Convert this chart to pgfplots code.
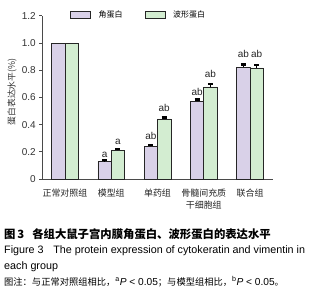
\documentclass[border=0pt]{standalone}
\usepackage{pgfplots}
\pgfplotsset{compat=1.18}
\usepackage{fontspec}
\setmainfont{Liberation Sans}
\newfontfamily\cjk{Noto Sans CJK SC}
\definecolor{kpurple}{HTML}{D9D1E8}
\definecolor{vgreen}{HTML}{D3EDD1}
\definecolor{axgray}{HTML}{4A4A4A}
\begin{document}
\begin{tikzpicture}[x=1bp,y=1bp]
\useasboundingbox (0,0) rectangle (334,-300);
\begin{axis}[
  at={(42.3bp,-179bp)}, anchor=south west,
  scale only axis, width=230.4bp, height=163.3bp,
  xmin=-0.49, xmax=4.49, ymin=0, ymax=1.2,
  axis lines=left, axis line style={-, draw=axgray, line width=0.7bp},
  xtick={0,1,2,3,4},
  xticklabels={正常对照组,模型组,单药组,{骨髓间充质\\干细胞组},联合组},
  xticklabel style={font=\cjk\fontsize{9}{12.4}\selectfont, align=center, text=black!85, yshift=-3.5bp},
  xtick style={draw=none},
  ytick={0,0.2,0.4,0.6,0.8,1.0,1.2},
  yticklabels={0,0.2,0.4,0.6,0.8,1.0,1.2},
  yticklabel style={font=\fontsize{10}{12}\selectfont, text=black!80},
  ytick style={draw=axgray, line width=0.7bp},
  tick align=outside, major tick length=3bp,
  ylabel={\cjk 蛋白表达水平(\%)},
  ylabel style={at={(axis description cs:-0.1315,0.533)}, anchor=center, font=\fontsize{8.8}{10}\selectfont, text=black!80},
  legend style={at={(0.418,1.004)}, anchor=center, draw=none, fill=none,
    legend columns=2, font=\cjk\fontsize{8}{10}\selectfont,
    /tikz/every odd column/.append style={column sep=6bp},
    /tikz/every even column/.append style={column sep=20bp}},
  legend image code/.code={\draw[#1] (0bp,-3.5bp) rectangle (20bp,3.5bp);},
  clip=false,
]
% group 1 (no error bars)
\addplot[ybar, forget plot, bar width=0.288, bar shift=0pt, fill=kpurple, draw=black!85, line width=0.6bp]
  coordinates {(-0.144,1.0)};
\addplot[ybar, forget plot, bar width=0.288, bar shift=0pt, fill=vgreen, draw=black!85, line width=0.6bp]
  coordinates {(0.144,1.0)};
% cytokeratin
\addplot[ybar, bar width=0.288, bar shift=0pt, fill=kpurple, draw=black!85, line width=0.6bp,
  error bars/.cd, y dir=plus, y explicit,
  error bar style={line width=1.2bp, black},
  error mark options={rotate=90, mark size=2.6bp, line width=2.4bp, black}]
  coordinates {(0.856,0.128) +- (0,0.012) (1.856,0.239) +- (0,0.010) (2.856,0.572) +- (0,0.012) (3.856,0.822) +- (0,0.018)};
\addlegendentry{角蛋白}
% vimentin
\addplot[ybar, bar width=0.288, bar shift=0pt, fill=vgreen, draw=black!85, line width=0.6bp,
  error bars/.cd, y dir=plus, y explicit,
  error bar style={line width=1.2bp, black},
  error mark options={rotate=90, mark size=2.6bp, line width=2.4bp, black}]
  coordinates {(1.144,0.211) +- (0,0.010) (2.144,0.442) +- (0,0.011) (3.144,0.677) +- (0,0.020) (4.144,0.817) +- (0,0.022)};
\addlegendentry{波形蛋白}
% significance letters
\addplot[forget plot, only marks, mark=none, nodes near coords, point meta=explicit symbolic,
  nodes near coords style={anchor=south, inner sep=0pt, font=\fontsize{10}{11}\selectfont, text=black!85}]
  coordinates {(0.856,0.158) [a] (1.144,0.253) [a] (1.856,0.29) [ab] (2.144,0.491) [ab]
               (2.856,0.614) [ab] (3.144,0.744) [ab] (3.856,0.894) [ab] (4.144,0.894) [ab]};
\end{axis}
\node[anchor=base west, inner sep=0pt, font=\cjk\bfseries\fontsize{11.4}{13}\selectfont] at (4,-238.5) {图\,3\hspace{0.7em}各组大鼠子宫内膜角蛋白、波形蛋白的表达水平};
\node[anchor=base west, inner sep=0pt, font=\fontsize{10.8}{12}\selectfont] at (4,-253.5) {Figure 3\hspace{0.9em}The protein expression of cytokeratin and vimentin in};
\node[anchor=base west, inner sep=0pt, font=\fontsize{10.8}{12}\selectfont] at (4,-269.3) {each group};
\node[anchor=base west, inner sep=0pt, font=\fontsize{10.2}{12}\selectfont] at (4,-285.5) {{\cjk\fontsize{9.3}{12}\selectfont 图注：与正常对照组相比，}\textsuperscript{a}\textit{P} < 0.05{\cjk\fontsize{9.3}{12}\selectfont ；与模型组相比，}\textsuperscript{b}\textit{P} < 0.05{\cjk\fontsize{9.3}{12}\selectfont 。}};
\end{tikzpicture}
\end{document}
